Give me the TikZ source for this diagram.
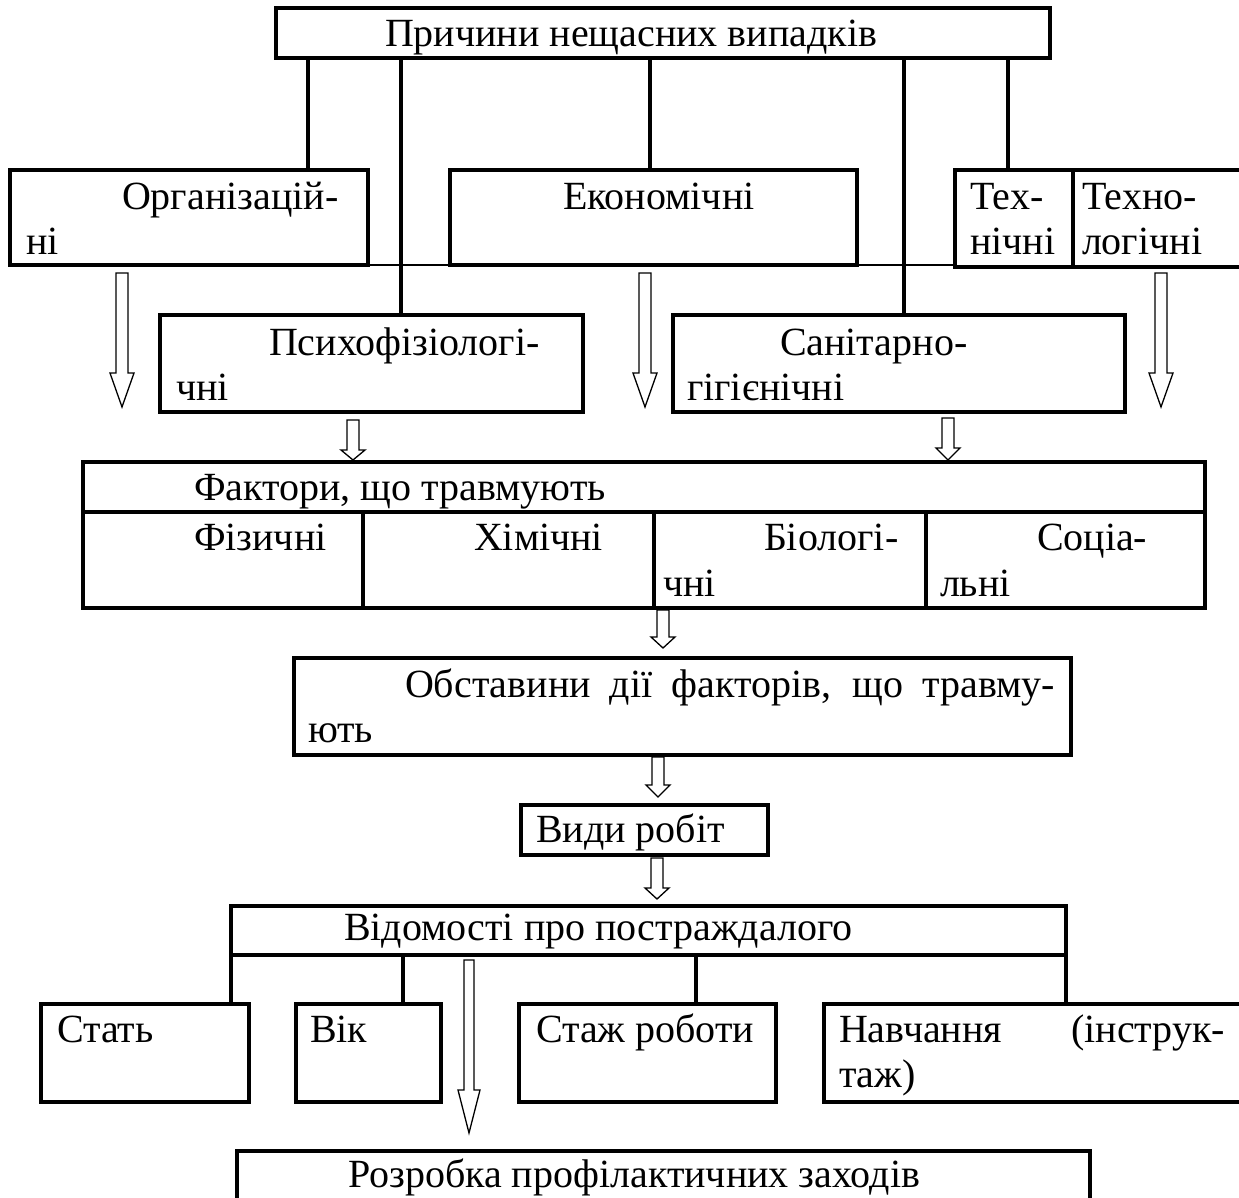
\documentclass[tikz,border=0pt]{standalone}
\usepackage{fontspec}
\setmainfont{Liberation Serif}
\tikzset{
 bx/.style={draw, line width=3.5pt, inner sep=0pt, outer sep=0pt, rectangle},
 lnk/.style={line width=3.5pt},
 thinl/.style={line width=2pt},
 harr/.style={line width=1.3pt, line join=miter},
 lbl/.style={anchor=base west, inner sep=0pt, outer sep=0pt, font=\fontsize{40}{45}\selectfont},
}
\newcommand\mkbox[5]{%
  \pgfmathsetmacro\mkbw{#4-#2}\pgfmathsetmacro\mkbh{#5-#3}%
  \pgfmathsetmacro\mkbx{(#2+#4)/2}\pgfmathsetmacro\mkby{(#3+#5)/2}%
  \node[bx, minimum width=\mkbw pt, minimum height=\mkbh pt] (#1) at (\mkbx,\mkby) {};}
% hollow arrow: x, ytop, yhead, ybot, shaft half width, head half width
\newcommand\harrow[6]{%
  \draw[harr] (#1-#5,#2) -- (#1-#5,#3) -- (#1-#6,#3) -- (#1,#4) -- (#1+#6,#3) -- (#1+#5,#3) -- (#1+#5,#2) -- cycle;}
\begin{document}
\begin{tikzpicture}[x=1pt,y=-1pt]
\useasboundingbox (0,0) rectangle (1239,1198);
\clip (0,0) rectangle (1239,1198);
\mkbox{top}{276}{8}{1050}{58}
\mkbox{org}{10}{170}{368}{265}
\mkbox{eco}{450}{170}{857}{265}
\mkbox{tex}{955}{170}{1073}{267}
\mkbox{tlg}{1073}{170}{1260}{267}
\mkbox{psy}{160}{315}{583}{412}
\mkbox{san}{673}{315}{1125}{412}
\mkbox{fach}{83}{462}{1205}{512}
\mkbox{fiz}{83}{512}{363}{608}
\mkbox{him}{363}{512}{654}{608}
\mkbox{bio}{654}{512}{926}{608}
\mkbox{soc}{926}{512}{1205}{608}
\mkbox{obs}{294}{658}{1071}{755}
\mkbox{vyd}{521}{805}{768}{855}
\mkbox{vid}{231}{906}{1066}{955}
\mkbox{stat}{41}{1004}{249}{1102}
\mkbox{vik}{296}{1004}{441}{1102}
\mkbox{stz}{519}{1004}{776}{1102}
\mkbox{nav}{824}{1004}{1260}{1102}
\mkbox{roz}{237}{1151}{1090}{1240}
% connector x positions
\coordinate (xa) at (308,0);
\coordinate (xb) at (401,0);
\coordinate (xc) at (650,0);
\coordinate (xd) at (904,0);
\coordinate (xe) at (1008,0);
\coordinate (xf) at (403,0);
\coordinate (xg) at (696,0);
\draw[lnk] (top.south -| xa) -- (org.north -| xa);
\draw[lnk] (top.south -| xb) -- (psy.north -| xb);
\draw[lnk] (top.south -| xc) -- (eco.north -| xc);
\draw[lnk] (top.south -| xd) -- (san.north -| xd);
\draw[lnk] (top.south -| xe) -- (tex.north -| xe);
\draw[lnk] (vid.south west) -- (stat.north -| vid.south west);
\draw[lnk] (vid.south -| xf) -- (vik.north -| xf);
\draw[lnk] (vid.south -| xg) -- (stz.north -| xg);
\draw[lnk] (vid.south east) -- (nav.north -| vid.south east);
\draw[thinl] (org.south east) -- (tex.south west |- org.south east);
% hollow arrows
\harrow{122}{273}{373}{407}{6}{12}
\harrow{645}{273}{373}{407}{6}{12}
\harrow{1161}{273}{373}{407}{6}{12}
\harrow{353}{420}{450}{460}{6}{12}
\harrow{948}{418}{448}{460}{6}{12}
\harrow{663}{610}{637}{648}{6}{12}
\harrow{658}{757}{785}{797}{6}{12}
\harrow{657}{858}{888}{899}{6}{12}
\harrow{469}{960}{1090}{1133}{5}{11}
% labels
\node[lbl] (t1) at (385,47) {Причини нещасних випадків};
\node[lbl] (t2) at (122,210) {Організацій-};
\node[lbl] (t3) at (26,255) {ні};
\node[lbl] (t4) at (563,210) {Економічні};
\node[lbl] (t5) at (970,210) {Тех-};
\node[lbl] (t6) at (970,255) {нічні};
\node[lbl] (t7) at (1082,210) {Техно-};
\node[lbl] (t8) at (1082,255) {логічні};
\node[lbl] (t9) at (269,355) {Психофізіологі-};
\node[lbl] (t10) at (176,400) {чні};
\node[lbl] (t11) at (780,355) {Санітарно-};
\node[lbl] (t12) at (687,400) {гігієнічні};
\node[lbl] (t13) at (194,500) {Фактори, що травмують};
\node[lbl] (t14) at (194,550) {Фізичні};
\node[lbl] (t15) at (474,550) {Хімічні};
\node[lbl] (t16) at (764,550) {Біологі-};
\node[lbl] (t17) at (663,596) {чні};
\node[lbl] (t18) at (1037,550) {Соціа-};
\node[lbl] (t19) at (940,596) {льні};
\node[lbl] (t20) at (405,697) {\makebox[650pt][s]{Обставини дії факторів, що травму-}};
\node[lbl] (t21) at (308,742) {ють};
\node[lbl] (t22) at (536,842) {Види робіт};
\node[lbl] (t23) at (344,940) {Відомості про постраждалого};
\node[lbl] (t24) at (57,1042) {Стать};
\node[lbl] (t25) at (310,1042) {Вік};
\node[lbl] (t26) at (536,1042) {Стаж роботи};
\node[lbl] (t27) at (839,1042) {\makebox[386pt][s]{Навчання (інструк-}};
\node[lbl] (t28) at (839,1087) {таж)};
\node[lbl] (t29) at (348,1187) {Розробка профілактичних заходів};
\end{tikzpicture}
\end{document}
